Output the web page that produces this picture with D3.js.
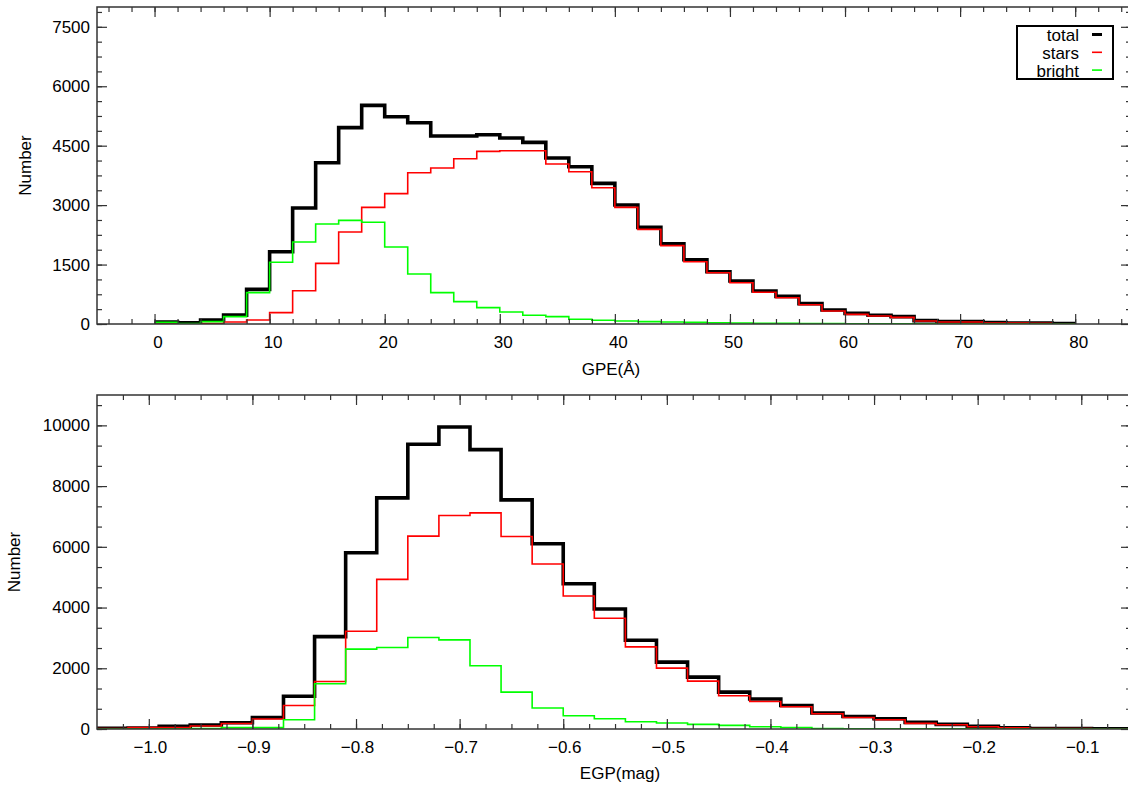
<!DOCTYPE html>
<html>
<head>
<meta charset="utf-8">
<script src="https://cdn.jsdelivr.net/npm/d3@7"></script>
<style>
  body { margin: 0; background: #fff; }
  text { font-family: "Liberation Sans", Arial, sans-serif; fill: #000; }
</style>
</head>
<body>
<div id="chart"></div>
<script>
// ---- data: top panel (GPE, 2 Å bins) ----
var gpeEdges = [0, 2, 4, 6, 8, 10, 12, 14, 16, 18, 20, 22, 24, 26, 28, 30, 32, 34, 36, 38, 40,
  42, 44, 46, 48, 50, 52, 54, 56, 58, 60, 62, 64, 66, 68, 70, 72, 74, 76, 78, 80];
var gpeTotal = [50, 30, 100, 225, 875, 1825, 2927, 4071, 4955, 5518, 5232, 5080, 4744, 4744,
  4777, 4693, 4584, 4189, 3970, 3549, 3003, 2439, 2027, 1623, 1320, 1085, 833, 698, 513, 353,
  269, 219, 185, 84, 59, 59, 34, 25, 25, 10];
var gpeStars = [0, 0, 10, 50, 101, 286, 841, 1531, 2321, 2944, 3289, 3818, 3936, 4172, 4357,
  4374, 4374, 4037, 3844, 3440, 2944, 2389, 1977, 1572, 1295, 1042, 800, 664, 487, 328, 244,
  202, 168, 76, 50, 50, 25, 25, 20, 8];
var gpeBright = [40, 10, 60, 185, 791, 1557, 2069, 2523, 2616, 2566, 1943, 1262, 791, 564, 413,
  303, 219, 185, 118, 93, 76, 59, 50, 40, 30, 25, 20, 15, 12, 10, 8, 6, 5, 4, 0, 0, 0, 0, 0, 0];

// ---- data: bottom panel (EGP, 0.03 mag bins) ----
var egpEdges = [-1.05, -1.02, -0.99, -0.96, -0.93, -0.90, -0.87, -0.84, -0.81, -0.78, -0.75,
  -0.72, -0.69, -0.66, -0.63, -0.60, -0.57, -0.54, -0.51, -0.48, -0.45, -0.42, -0.39, -0.36,
  -0.33, -0.30, -0.27, -0.24, -0.21, -0.18, -0.15, -0.12, -0.09, -0.06, -0.03];
var egpTotal = [20, 30, 86, 131, 208, 380, 1080, 3043, 5804, 7611, 9376, 9944, 9201, 7546, 6099,
  4785, 3953, 2924, 2201, 1709, 1216, 986, 776, 526, 414, 338, 217, 151, 85, 43, 15, 12, 10, 8];
var egpStars = [15, 50, 45, 100, 180, 329, 776, 1565, 3220, 4929, 6352, 7032, 7118, 6342, 5432,
  4381, 3648, 2705, 2005, 1577, 1094, 907, 733, 503, 381, 306, 184, 141, 76, 40, 15, 12, 10, 8];
var egpBright = [0, 0, 10, 15, 44, 44, 306, 1489, 2629, 2683, 3012, 2935, 2081, 1216, 690, 437,
  338, 240, 197, 151, 118, 76, 50, 15, 10, 8, 5, 5, 3, 2, 0, 0, 0, 0];

// ---- axis ticks ----
var gpeMajor = [0, 10, 20, 30, 40, 50, 60, 70, 80];
var gpeCountMajor = [0, 1500, 3000, 4500, 6000, 7500];
var egpMajor = [-1.0, -0.9, -0.8, -0.7, -0.6, -0.5, -0.4, -0.3, -0.2, -0.1];
var egpCountMajor = [0, 2000, 4000, 6000, 8000, 10000];

var legendNames = ["total", "stars", "bright"];
var seriesColors = ["#000000", "#ff0000", "#00ff00"];
var seriesWidths = [3.6, 1.6, 1.6];

var width = 1128, height = 785;
var left = 97, right = 1131;

var svg = d3.select("#chart")
  .append("svg")
  .attr("width", width)
  .attr("height", height);

function stepPoints(edges, vals) {
  var pts = vals.map(function (v, i) { return [edges[i], v]; });
  pts.push([edges[vals.length], vals[vals.length - 1]]);
  return pts;
}

function drawPanel(opt) {
  var x = d3.scaleLinear().domain(opt.xDomain).range([left, right]);
  var y = d3.scaleLinear().domain(opt.yDomain).range([opt.bottom, opt.top]);

  svg.append("clipPath")
    .attr("id", opt.id)
    .append("rect")
    .attr("x", left).attr("y", opt.top)
    .attr("width", right - left).attr("height", opt.bottom - opt.top);

  var line = d3.line()
    .x(function (d) { return x(d[0]); })
    .y(function (d) { return y(d[1]); })
    .curve(d3.curveStepAfter);

  var data = svg.append("g").attr("clip-path", "url(#" + opt.id + ")");
  opt.series.forEach(function (s, i) {
    data.append("path")
      .datum(stepPoints(opt.edges, s))
      .attr("d", line)
      .attr("fill", "none")
      .attr("stroke", seriesColors[i])
      .attr("stroke-width", seriesWidths[i])
      .attr("stroke-linejoin", "miter");
  });

  // minor ticks
  var xMinor = d3.range(opt.xMinorStart, opt.xDomain[1], opt.xMinorStep);
  var yMinor = d3.range(0, opt.yDomain[1], opt.yMinorStep);

  function addAxis(axis, transform) {
    var g = svg.append("g").attr("transform", transform).call(axis);
    g.select(".domain").remove();
    g.selectAll("line").attr("stroke", "#333").attr("stroke-width", 1.2);
    g.selectAll("text").style("font-size", "17px")
      .style("font-family", "'Liberation Sans', Arial, sans-serif");
    return g;
  }

  addAxis(d3.axisBottom(x).tickValues(xMinor).tickSize(-5).tickFormat(""), "translate(0," + opt.bottom + ")");
  addAxis(d3.axisTop(x).tickValues(xMinor).tickSize(-5).tickFormat(""), "translate(0," + opt.top + ")");
  addAxis(d3.axisLeft(y).tickValues(yMinor).tickSize(-5).tickFormat(""), "translate(" + left + ",0)");
  addAxis(d3.axisRight(y).tickValues(yMinor).tickSize(-5).tickFormat(""), "translate(" + right + ",0)");

  var xb = addAxis(d3.axisBottom(x).tickValues(opt.xMajor).tickSize(-10).tickPadding(12)
    .tickFormat(opt.xFormat), "translate(0," + opt.bottom + ")");
  xb.selectAll("text").attr("dx", opt.labelDx);
  addAxis(d3.axisTop(x).tickValues(opt.xMajor).tickSize(-10).tickFormat(""), "translate(0," + opt.top + ")");
  addAxis(d3.axisLeft(y).tickValues(opt.yMajor).tickSize(-10).tickPadding(7)
    .tickFormat(d3.format("d")), "translate(" + left + ",0)");
  addAxis(d3.axisRight(y).tickValues(opt.yMajor).tickSize(-10).tickFormat(""), "translate(" + right + ",0)");

  // frame
  svg.append("rect")
    .attr("x", left).attr("y", opt.top)
    .attr("width", right - left).attr("height", opt.bottom - opt.top)
    .attr("fill", "none")
    .attr("stroke", "#333")
    .attr("stroke-width", 1.5);

  svg.append("text")
    .attr("x", opt.xTitleX)
    .attr("y", opt.xTitleY)
    .attr("text-anchor", "middle")
    .style("font-size", "17px")
    .text(opt.xTitle);

  svg.append("text")
    .attr("transform", "translate(" + opt.yTitleX + "," + (opt.top + opt.bottom) / 2 + ") rotate(-90)")
    .attr("text-anchor", "middle")
    .attr("dy", "0.35em")
    .style("font-size", "17px")
    .text("Number");
}

drawPanel({
  id: "clipTop",
  top: 7, bottom: 324,
  xDomain: [-5, 84.85], yDomain: [0, 8000],
  edges: gpeEdges, series: [gpeTotal, gpeStars, gpeBright],
  xMinorStart: -4, xMinorStep: 2, yMinorStep: 375,
  xMajor: gpeMajor, yMajor: gpeCountMajor,
  xFormat: d3.format("d"), labelDx: 3,
  xTitle: "GPE(Å)", xTitleX: 611, xTitleY: 375,
  yTitleX: 25
});

drawPanel({
  id: "clipBottom",
  top: 395, bottom: 729,
  xDomain: [-1.05, -0.052], yDomain: [0, 11000],
  edges: egpEdges, series: [egpTotal, egpStars, egpBright],
  xMinorStart: -1.025, xMinorStep: 0.025, yMinorStep: 2000 / 3,
  xMajor: egpMajor, yMajor: egpCountMajor,
  xFormat: d3.format(".1f"), labelDx: 1,
  xTitle: "EGP(mag)", xTitleX: 620, xTitleY: 779,
  yTitleX: 14
});

// legend
var legend = svg.append("g");
legend.append("rect")
  .attr("x", 1017).attr("y", 26)
  .attr("width", 96).attr("height", 53)
  .attr("fill", "#fff")
  .attr("stroke", "#000")
  .attr("stroke-width", 2);

legendNames.forEach(function (name, i) {
  var cy = 34.5 + i * 17.8;
  legend.append("text")
    .attr("x", 1079)
    .attr("y", cy + 6.5)
    .attr("text-anchor", "end")
    .style("font-size", "17px")
    .text(name);
  legend.append("line")
    .attr("x1", 1092).attr("x2", 1102)
    .attr("y1", cy).attr("y2", cy)
    .attr("stroke", seriesColors[i])
    .attr("stroke-width", i === 0 ? 3 : 1.6);
});
</script>
</body>
</html>
